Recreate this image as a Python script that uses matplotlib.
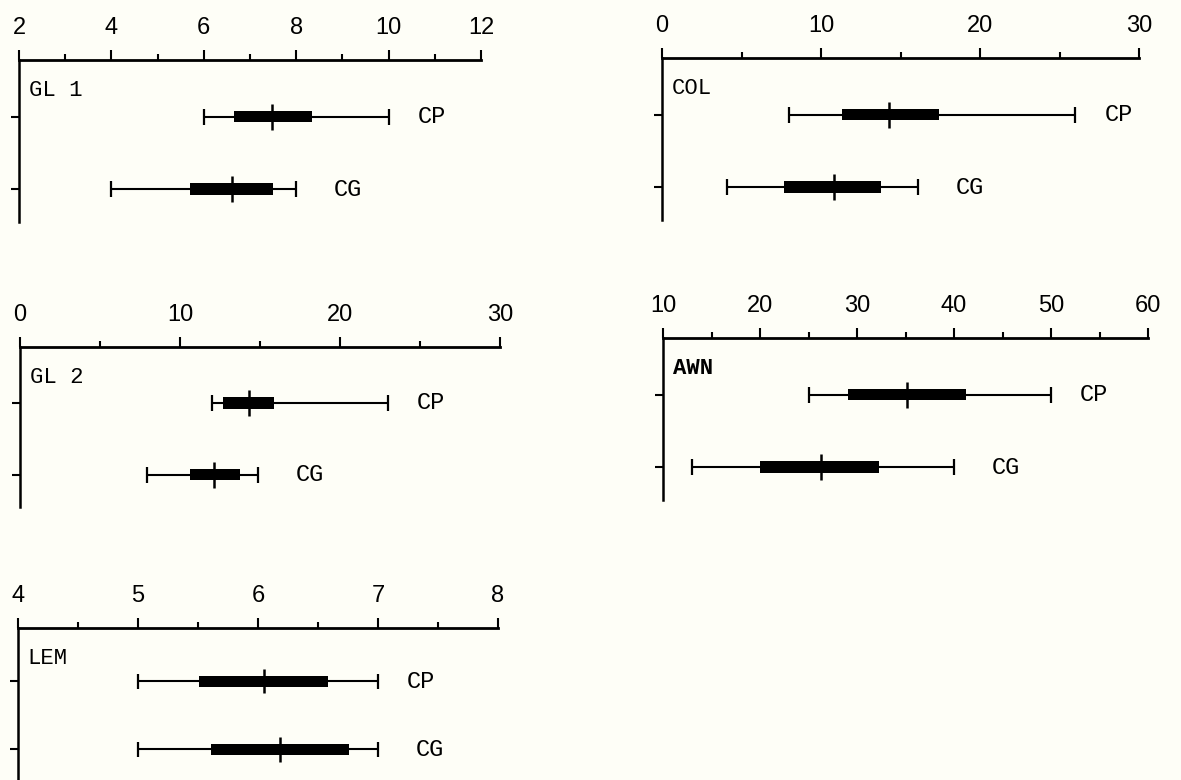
import numpy as np
import matplotlib.pyplot as plt

# variables shown in each panel
names = ["GL 1", "COL", "GL 2", "AWN", "LEM"]

# CP row: whisker ends, thick bar ends, centre mark
cp_min = [6.0, 8.0, 12.0, 25.0, 5.0]
cp_lo = [6.65, 11.3, 12.7, 29.1, 5.51]
cp_mid = [7.48, 14.3, 14.3, 35.2, 6.05]
cp_hi = [8.35, 17.4, 15.9, 41.2, 6.58]
cp_max = [10.0, 26.0, 23.0, 50.0, 7.0]

# CG row
cg_min = [4.0, 4.1, 7.95, 13.0, 5.0]
cg_lo = [5.7, 7.7, 10.6, 20.0, 5.61]
cg_mid = [6.6, 10.8, 12.1, 26.3, 6.18]
cg_hi = [7.5, 13.8, 13.75, 32.3, 6.76]
cg_max = [8.0, 16.1, 14.9, 40.0, 7.0]

# scale of each top axis
x_start = [2, 0, 0, 10, 4]
x_end = [12, 30, 30, 60, 8]
major_step = [2, 10, 10, 10, 1]
minor_step = [1, 5, 5, 5, 0.5]

W, H = 1181, 780
bg = "#fefef7"

# panel boxes in pixels: left, top, right, bottom
boxes = [
    (19, 60, 481, 222),
    (662, 58, 1139, 220),
    (20, 347, 500, 507),
    (663, 338, 1148, 500),
    (18, 628, 498, 780),
]

fig = plt.figure(figsize=(W / 100, H / 100), dpi=100, facecolor=bg)

for i, name in enumerate(names):
    l, t, r, b = boxes[i]
    ax = fig.add_axes([l / W, 1 - b / H, (r - l) / W, (b - t) / H])
    ax.set_facecolor("none")

    ax.set_xlim(x_start[i], x_end[i])
    ax.set_ylim(2.45, 0.22)
    ax.xaxis.tick_top()
    ax.set_xticks(np.arange(x_start[i], x_end[i] + 1e-9, major_step[i]))
    ax.set_xticks(np.arange(x_start[i], x_end[i] + 1e-9, minor_step[i]), minor=True)
    ax.xaxis.set_major_formatter(plt.FuncFormatter(lambda v, p: "%g" % v))
    ax.tick_params(axis="x", which="major", direction="out", length=7, width=1.5,
                   pad=8, labelsize=17, colors="black")
    ax.tick_params(axis="x", which="minor", direction="out", length=4, width=1.5)
    for lbl in ax.get_xticklabels():
        lbl.set_family("Liberation Sans")
    ax.set_yticks([1, 2])
    ax.set_yticklabels([])
    ax.tick_params(axis="y", direction="out", length=6, width=1.5)

    for side in ["bottom", "right"]:
        ax.spines[side].set_visible(False)
    ax.spines["top"].set_linewidth(2)
    ax.spines["left"].set_linewidth(1.8)

    rows = [
        (1, cp_min[i], cp_lo[i], cp_mid[i], cp_hi[i], cp_max[i], "CP", 21),
        (2, cg_min[i], cg_lo[i], cg_mid[i], cg_hi[i], cg_max[i], "CG", 27),
    ]
    for y, mn, lo, mid, hi, mx, lab, gap in rows:
        ax.hlines(y, mn, mx, color="black", lw=1.5)
        ax.vlines([mn, mx], y - 0.11, y + 0.11, color="black", lw=1.6)
        ax.barh(y, hi - lo, left=lo, height=0.16, color="black")
        ax.vlines(mid, y - 0.18, y + 0.18, color="black", lw=1.8)
        ax.annotate(lab, (mx, y), xytext=(gap, 0), textcoords="offset points",
                    va="center", ha="left", fontsize=17, family="Liberation Mono")

    ax.annotate(name, (0, 1), xycoords="axes fraction", xytext=(7, -22),
                textcoords="offset points", va="center", ha="left", fontsize=16,
                family="Liberation Mono",
                fontweight="bold" if name == "AWN" else "normal")

fig.savefig("out.png", dpi=100, facecolor=bg)
